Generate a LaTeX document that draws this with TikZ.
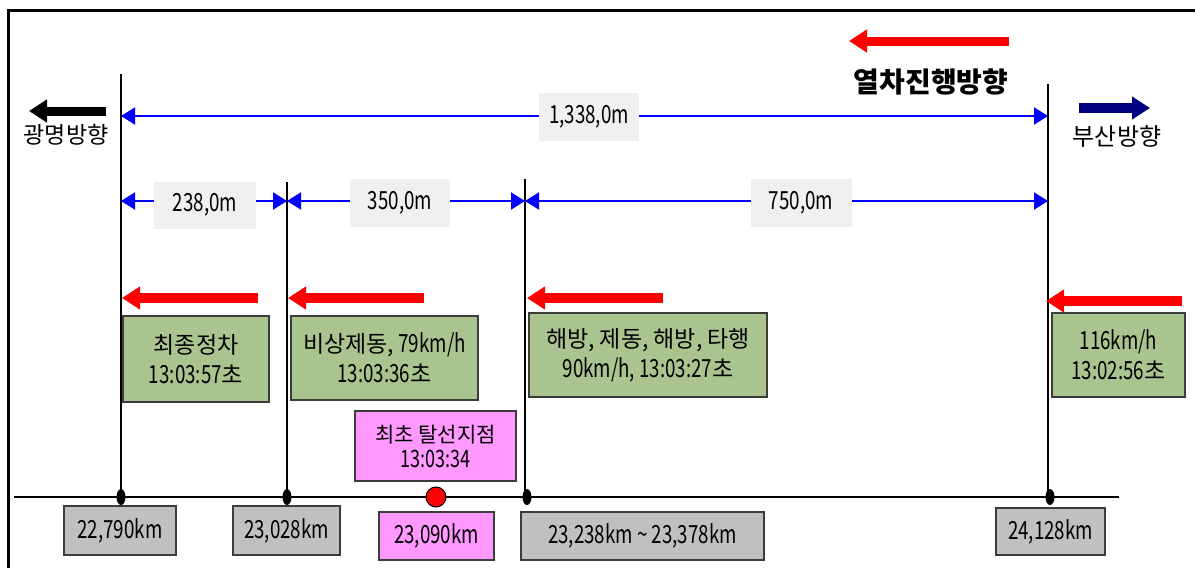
\documentclass[tikz,border=0pt]{standalone}
\usepackage{fontspec}
\setmainfont{Noto Sans CJK KR}
\newfontfamily\numfont{Noto Sans CJK KR}[FakeStretch=0.75]
\newcommand\kr[2][23]{{\normalfont\fontsize{#1}{30}\selectfont #2}}
\usetikzlibrary{arrows.meta,shapes.geometric}
\definecolor{boxgreen}{RGB}{169,196,142}
\definecolor{boxgray}{RGB}{192,192,192}
\definecolor{boxpink}{RGB}{255,153,255}
\definecolor{lblbg}{RGB}{240,240,240}
\definecolor{edgegray}{RGB}{60,60,60}
\definecolor{dimblue}{RGB}{0,0,255}
\definecolor{navyarrow}{RGB}{0,0,128}
\begin{document}
\begin{tikzpicture}[x=1pt,y=-1pt,
  txt/.style={font=\fontsize{23}{30}\selectfont, inner sep=0pt},
  numtxt/.style={font=\numfont\fontsize{25}{30}\selectfont},
  vline/.style={line width=1.5pt, black},
  ground/.style={line width=2pt, black},
  dimline/.style={line width=2pt, dimblue, {Triangle[length=14pt,width=17pt]}-{Triangle[length=14pt,width=17pt]}},
  lbl/.style={numtxt, fill=lblbg, inner sep=0pt},
  bigarrow/.style={line width=10pt, -{Triangle[length=18pt,width=22pt]}},
  infobox/.style={numtxt, draw=edgegray, line width=1.5pt, fill=boxgreen, align=center, inner sep=0pt},
  pinkbox/.style={numtxt, draw=edgegray, line width=1.5pt, fill=boxpink, align=center, inner sep=0pt, font=\numfont\fontsize{24}{25}\selectfont},
  kmbox/.style={numtxt, draw=edgegray, line width=1.5pt, fill=boxgray, inner sep=0pt},
  kmpink/.style={kmbox, fill=boxpink},
  dotmark/.style={ellipse, fill=black, minimum width=9pt, minimum height=16pt, inner sep=0pt},
  reddot/.style={circle, fill=red, draw=black, line width=1pt, minimum size=20pt, inner sep=0pt}
]
\useasboundingbox (0,0) rectangle (1195,568);
% frame
\draw[line width=3pt] (8,568) -- (8,10) -- (1195,10);

% coordinates of the vertical station lines
\coordinate (v1t) at (121,74);  \coordinate (v1b) at (121,497);
\coordinate (v2t) at (287,182); \coordinate (v2b) at (287,497);
\coordinate (v3t) at (525,179); \coordinate (v3b) at (525,497);
\coordinate (v4t) at (1048,84); \coordinate (v4b) at (1048,497);
\draw[vline] (v1t) -- (v1b);
\draw[vline] (v2t) -- (v2b);
\draw[vline] (v3t) -- (v3b);
\draw[vline] (v4t) -- (v4b);

% ground line
\coordinate (gl) at (14,497); \coordinate (gr) at (1119,497);
\draw[ground] (gl) -- (gr);

% dimension lines
\coordinate (d0a) at (121,116); \coordinate (d0b) at (1048,116);
\coordinate (d1a) at (121,201); \coordinate (d1b) at (287,201);
\coordinate (d2a) at (287,201); \coordinate (d2b) at (525,201);
\coordinate (d3a) at (525,201); \coordinate (d3b) at (1048,201);
\draw[dimline] (d0a) -- (d0b);
\draw[dimline] (d1a) -- (d1b);
\draw[dimline] (d2a) -- (d2b);
\draw[dimline] (d3a) -- (d3b);
\node[lbl, minimum width=100pt, minimum height=48pt] (L0) at (589,117) {1,338,0m};
\node[lbl, minimum width=102pt, minimum height=47pt] (L1) at (205,205) {238,0m};
\node[lbl, minimum width=100pt, minimum height=48pt] (L2) at (400,203) {350,0m};
\node[lbl, minimum width=101pt, minimum height=48pt] (L3) at (801,203) {750,0m};

% direction arrows and labels
\coordinate (ka) at (106,111); \coordinate (kb) at (29,111);
\draw[bigarrow, line width=9pt, black] (ka) -- (kb);
\node[txt] (kt) at (66,135) {광명방향};
\coordinate (ba) at (1079,108); \coordinate (bb) at (1150,108);
\draw[bigarrow, navyarrow] (ba) -- (bb);
\node[txt, font=\fontsize{24}{30}\selectfont] (bt) at (1117,136) {부산방향};
\coordinate (ta) at (1009,41); \coordinate (tb) at (849,41);
\draw[bigarrow, line width=9pt, red] (ta) -- (tb);
\node[txt, font=\fontsize{28}{32}\selectfont\bfseries] (tt) at (931,82) {열차진행방향};

% red movement arrows
\coordinate (r1a) at (258,298);  \coordinate (r1b) at (122,298);
\coordinate (r2a) at (424,298);  \coordinate (r2b) at (288,298);
\coordinate (r3a) at (663,298);  \coordinate (r3b) at (527,298);
\coordinate (r4a) at (1182,301); \coordinate (r4b) at (1046,301);
\draw[bigarrow, red] (r1a) -- (r1b);
\draw[bigarrow, red] (r2a) -- (r2b);
\draw[bigarrow, red] (r3a) -- (r3b);
\draw[bigarrow, red] (r4a) -- (r4b);

% green info boxes
\node[infobox, minimum width=146pt, minimum height=86pt] (g1) at (196,359) {\kr{최종정차}\\13:03:57\kr{초}};
\node[infobox, minimum width=187pt, minimum height=84pt] (g2) at (384.5,358) {\kr{비상제동,} 79km/h\\13:03:36\kr{초}};
\node[infobox, minimum width=238pt, minimum height=84pt] (g3) at (648,355) {\kr{해방, 제동, 해방, 타행}\\90km/h, 13:03:27\kr{초}};
\node[infobox, minimum width=133pt, minimum height=84pt] (g4) at (1118.5,355) {116km/h\\13:02:56\kr{초}};

% derailment point box
\node[pinkbox, minimum width=161pt, minimum height=70pt] (pk) at (435.5,446) {\kr[21]{최초 탈선지점}\\13:03:34};

% station dots
\node[dotmark] (p1) at (121,497) {};
\node[dotmark] (p2) at (287,497) {};
\node[dotmark] (p3) at (527,497) {};
\node[dotmark] (p4) at (1050,497) {};
\node[reddot] (pr) at (436,497) {};

% kilometre boxes
\node[kmbox, minimum width=112pt, minimum height=49pt] (k1) at (120,530.5) {22,790km};
\node[kmbox, minimum width=107pt, minimum height=49pt] (k2) at (286.5,530.5) {23,028km};
\node[kmpink, minimum width=115pt, minimum height=48pt] (k3) at (436.5,536) {23,090km};
\node[kmbox, minimum width=243pt, minimum height=48pt] (k4) at (642.5,536) {23,238km \textasciitilde{} 23,378km};
\node[kmbox, minimum width=109pt, minimum height=47pt] (k5) at (1050.5,531.5) {24,128km};
\end{tikzpicture}
\end{document}
